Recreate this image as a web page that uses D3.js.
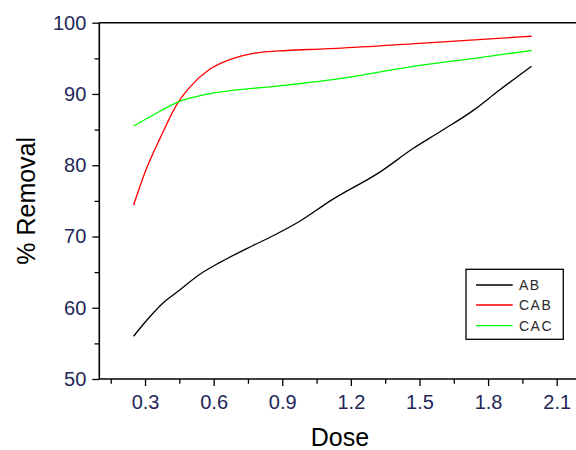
<!DOCTYPE html>
<html><head><meta charset="utf-8">
<script src="https://cdn.jsdelivr.net/npm/d3@7"></script>
<style>body{margin:0;background:#fff}svg{display:block}text{font-family:"Liberation Sans",Arial,sans-serif}</style>
</head><body><svg id="c" width="576" height="450"></svg>
<script>
const seriesNames = ["AB", "CAB", "CAC"];
const seriesColors = ["#000000", "#ff0000", "#00ff00"];
const abDose = [0.25, 0.32, 0.38, 0.44, 0.54, 0.63, 0.77, 0.86, 0.98, 1.11, 1.33, 1.47, 1.59, 1.74, 1.84, 1.99];
const abVal  = [56.0, 58.7, 60.7, 62.2, 64.7, 66.4, 68.7, 70.1, 72.2, 75.0, 79.1, 82.3, 84.7, 87.8, 90.3, 93.9];
const cabDose = [0.25, 0.3, 0.366, 0.446, 0.497, 0.584, 0.686, 0.774, 0.92, 1.065, 1.138, 1.5, 1.99];
const cabVal  = [74.4, 79.0, 83.8, 88.9, 91.0, 93.5, 95.0, 95.7, 96.1, 96.3, 96.4, 97.1, 98.1];
const cacDose = [0.25, 0.336, 0.446, 0.555, 0.7, 0.846, 0.992, 1.12, 1.5, 1.74, 1.99];
const cacVal  = [85.5, 87.05, 88.9, 89.86, 90.56, 91.0, 91.5, 92.0, 94.0, 95.0, 96.1];
const xMajorTicks = [0.3, 0.6, 0.9, 1.2, 1.5, 1.8, 2.1];
const xMinorTicks = [0.15, 0.45, 0.75, 1.05, 1.35, 1.65, 1.95];
const yMajorTicks = [50, 60, 70, 80, 90, 100];
const yMinorTicks = [55, 65, 75, 85, 95];

const svg = d3.select("#c");
const L = 99.3, T = 22.7, B = 379;
const x = d3.scaleLinear().domain([0.1, 2.2]).range([L, L + 2.1 * 228.7]);
const y = d3.scaleLinear().domain([50, 100]).range([B, T]);

const labelColor = "#1f2858";
// x axis
const gx = svg.append("g").attr("transform", `translate(0,${B})`);
gx.call(d3.axisBottom(x).tickValues(xMajorTicks).tickSize(7).tickPadding(9).tickFormat(d3.format(".1f")));
gx.append("g").call(d3.axisBottom(x).tickValues(xMinorTicks).tickSize(4.7).tickFormat(""));
gx.selectAll(".domain").remove();
gx.append("line").attr("x1", L).attr("x2", 576).attr("stroke", "#000").attr("stroke-width", 1.6);
// y axis
const gy = svg.append("g").attr("transform", `translate(${L},0)`);
gy.call(d3.axisLeft(y).tickValues(yMajorTicks).tickSize(7).tickPadding(6));
gy.append("g").call(d3.axisLeft(y).tickValues(yMinorTicks).tickSize(4.7).tickFormat(""));
gy.selectAll(".domain").remove();
gy.append("line").attr("y1", T).attr("y2", B).attr("stroke", "#000").attr("stroke-width", 1.6);
svg.selectAll(".tick line").attr("stroke", "#000").attr("stroke-width", 1.3);
svg.selectAll(".tick text").attr("font-size", 20).attr("fill", labelColor).style("font-family", "Liberation Sans, Arial, sans-serif");
// top frame
svg.append("line").attr("x1", L).attr("x2", 576).attr("y1", T).attr("y2", T).attr("stroke", "#000").attr("stroke-width", 1.6);

// titles
svg.append("text").attr("x", 340).attr("y", 446).attr("text-anchor", "middle").attr("font-size", 25).attr("fill", "#000").text("Dose");
svg.append("text").attr("transform", `translate(35,${(T + B) / 2}) rotate(-90)`).attr("text-anchor", "middle").attr("font-size", 25).attr("fill", "#000").text("% Removal");

// lines
const line = d3.line().x(d => x(d[0])).y(d => y(d[1])).curve(d3.curveMonotoneX);
const data = [d3.zip(abDose, abVal), d3.zip(cabDose, cabVal), d3.zip(cacDose, cacVal)];
data.forEach((pts, i) => {
  svg.append("path").datum(pts).attr("d", line).attr("fill", "none").attr("stroke", seriesColors[i]).attr("stroke-width", 1.3);
});

// legend
const lg = svg.append("g");
lg.append("rect").attr("x", 466).attr("y", 269.3).attr("width", 97.3).attr("height", 70).attr("fill", "#fff").attr("stroke", "#000").attr("stroke-width", 1.3);
const rows = [285, 305, 325.7];
seriesNames.forEach((n, i) => {
  lg.append("line").attr("x1", 476).attr("x2", 512.7).attr("y1", rows[i]).attr("y2", rows[i]).attr("stroke", seriesColors[i]).attr("stroke-width", 1.3);
  lg.append("text").attr("x", 519).attr("y", rows[i] + 5).attr("font-size", 14).attr("letter-spacing", 1.5).attr("fill", "#2a2a2a").text(n);
});
</script></body></html>
